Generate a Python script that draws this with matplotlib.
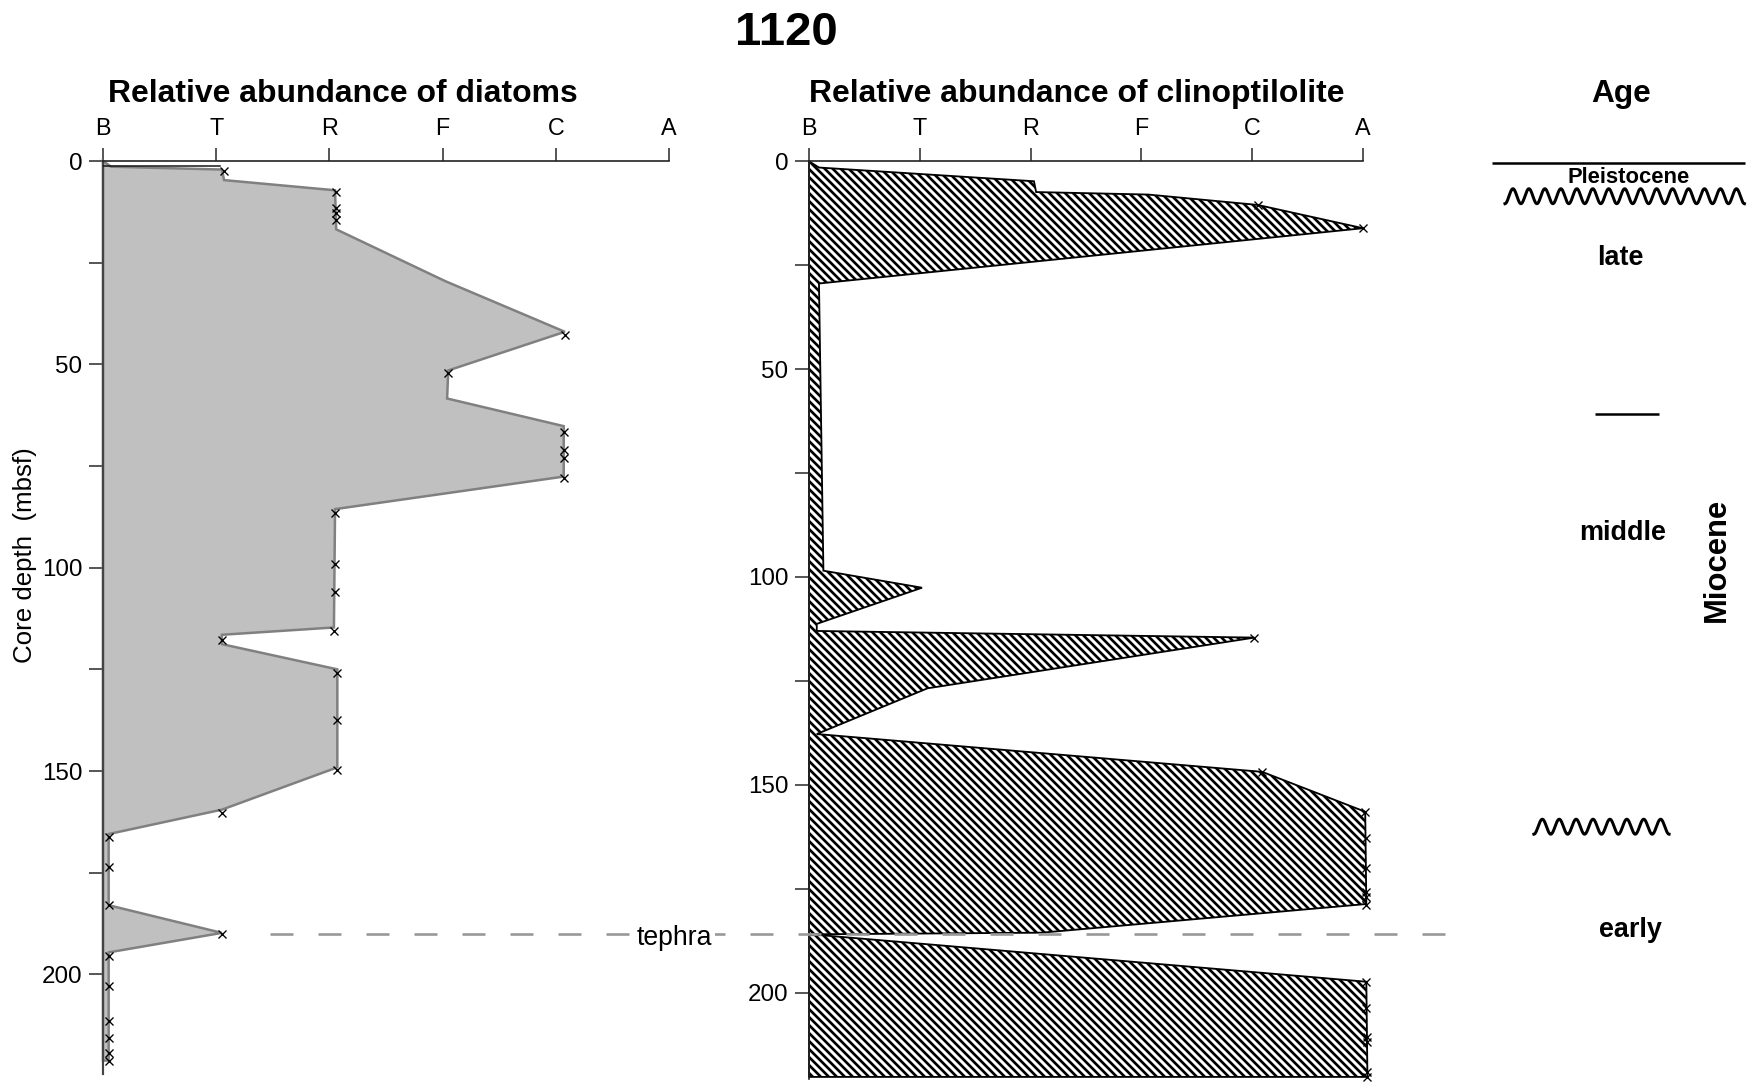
import numpy as np
import matplotlib
matplotlib.use("Agg")
import matplotlib.pyplot as plt
from matplotlib.lines import Line2D
from matplotlib.transforms import blended_transform_factory

plt.rcParams['font.family'] = ['Liberation Sans', 'DejaVu Sans']
plt.rcParams['hatch.linewidth'] = 1.6
plt.rcParams['lines.scale_dashes'] = False

# ---------------- data ----------------
abundance_labels = ['B', 'T', 'R', 'F', 'C', 'A']          # 0..5
abundance_ticks = [0, 1, 2, 3, 4, 5]
depth_ticks = [0, 25, 50, 75, 100, 125, 150, 175, 200]
depth_ticklabels = ['0', '', '50', '', '100', '', '150', '', '200']

# diatoms: outline vertices (depth mbsf, abundance class)
diatom_depth = [0, 1.4, 2.1, 4.7, 7.2, 16.8, 29.5, 42.0, 51.5, 58.4, 65.2, 77.6,
                85.6, 114.7, 116.5, 118.8, 125.0, 149.1, 159.5, 165.5, 183.0,
                189.8, 194.6, 221.2, 221.2]
diatom_value = [0, 0.07, 1.05, 1.07, 2.05, 2.06, 3.02, 4.08, 3.05, 3.04, 4.07, 4.07,
                2.05, 2.04, 1.05, 1.05, 2.07, 2.07, 1.05, 0.05, 0.05,
                1.05, 0.05, 0.05, 0]
# thin black trace near the top of the diatom log
diatom_trace_depth = [1.15, 1.15]
diatom_trace_value = [0, 1.03]
# diatoms: samples
diatom_sample_depth = [2.5, 7.5, 11.6, 12.9, 14.5, 42.8, 52.2, 66.6, 71.1, 73.1, 78.0,
                       86.5, 99.0, 106.0, 115.6, 117.7, 126.0, 137.4, 149.8, 160.3,
                       166.2, 173.5, 183.0, 190.0, 195.5, 202.8, 211.4, 215.7, 219.3, 221.2]
diatom_sample_value = [1.07, 2.06, 2.06, 2.06, 2.06, 4.08, 3.05, 4.07, 4.07, 4.07, 4.07,
                       2.05, 2.05, 2.05, 2.04, 1.05, 2.07, 2.07, 2.07, 1.05,
                       0.05, 0.05, 0.05, 1.05, 0.05, 0.05, 0.05, 0.05, 0.05, 0.05]

# clinoptilolite: upper interval outline
clino_upper_depth = [0, 1.5, 4.8, 7.4, 8.0, 10.5, 16.1, 29.4, 98.5, 102.6, 111.3, 113.0,
                     114.6, 126.8, 137.8, 146.9, 156.5, 178.7, 185.6, 186.0]
clino_upper_value = [0, 0.09, 2.03, 2.05, 3.06, 4.05, 5.0, 0.09, 0.13, 1.02, 0.07, 0.07,
                     4.02, 1.07, 0.07, 4.09, 5.02, 5.03, 2.1, 0.0]
# clinoptilolite: lower interval outline
clino_lower_depth = [186.2, 186.2, 197.4, 220.3, 220.3]
clino_lower_value = [0, 0.11, 5.03, 5.04, 0]
# clinoptilolite: samples
clino_sample_depth = [10.5, 16.1, 114.6, 146.9, 156.5, 162.9, 170.0, 175.7, 177.0, 179.0,
                      197.4, 203.8, 210.6, 212.0, 219.0, 220.3]
clino_sample_value = [4.05, 5.0, 4.02, 4.09, 5.02, 5.03, 5.03, 5.03, 5.03, 5.03,
                      5.03, 5.03, 5.04, 5.04, 5.04, 5.04]

tephra_depth = 190.0   # on the diatom depth axis

# age column (depths on clinoptilolite axis)
age_top_depth = 0.3
pleistocene_base_depth = 8.4
late_middle_depth = 60.8
middle_early_depth = 160.1
age_labels = ['late', 'middle', 'early']
age_label_depths = [23.3, 89.4, 185.0]
age_label_x = [0.548, 0.558, 0.582]

# ---------------- figure ----------------
DPI = 120
fig = plt.figure(figsize=(1752 / DPI, 1086 / DPI), dpi=DPI)
W, H = 1752.0, 1086.0

def box(x0, y0, x1, y1):
    return [x0 / W, 1 - y1 / H, (x1 - x0) / W, (y1 - y0) / H]

ax1 = fig.add_axes(box(103, 161, 669, 1074))
ax2 = fig.add_axes(box(809, 161.3, 1363, 1079.4))
ax3 = fig.add_axes(box(1460, 161.3, 1752, 1079.4))

tick_fs = 14
ytick_fs = 14.5

def style_axis(ax, ymax):
    ax.set_xlim(0, 5)
    ax.set_ylim(ymax, 0)
    ax.xaxis.tick_top()
    ax.set_xticks(abundance_ticks)
    ax.set_xticklabels(abundance_labels, fontsize=tick_fs)
    ax.set_yticks(depth_ticks)
    ax.set_yticklabels(depth_ticklabels, fontsize=ytick_fs)
    ax.tick_params(axis='x', direction='out', length=8, width=0.9, pad=4.5, color='#222222')
    ax.tick_params(axis='y', direction='out', length=8.4, width=0.9, pad=4, color='#222222')
    ax.spines['right'].set_visible(False)
    ax.spines['bottom'].set_visible(False)
    for s in ('top', 'left'):
        ax.spines[s].set_linewidth(1.0)
        ax.spines[s].set_color('#222222')
    ax.set_facecolor('none')

style_axis(ax1, 224.5)
style_axis(ax2, 220.9)
ax1.spines['left'].set_color('#444444')
ax1.spines['left'].set_linewidth(1.3)

# diatoms
p = ax1.fill(diatom_value, diatom_depth, facecolor='#c0c0c0', edgecolor='#808080',
             linewidth=1.5, zorder=2)
for a in p:
    a.set_clip_on(False)
ax1.plot(diatom_trace_value, diatom_trace_depth, color='#111111', lw=0.9, zorder=3)
ax1.plot(diatom_sample_value, diatom_sample_depth, linestyle='none', marker='x',
         markersize=4.5, markeredgewidth=0.8, color='black', zorder=3, clip_on=False)

# clinoptilolite
for vals, deps in ((clino_upper_value, clino_upper_depth),
                   (clino_lower_value, clino_lower_depth)):
    p = ax2.fill(vals, deps, facecolor='white', edgecolor='black', linewidth=1.1,
                 hatch='\\' * 5, zorder=2)
    for a in p:
        a.set_clip_on(False)
ax2.plot(clino_sample_value, clino_sample_depth, linestyle='none', marker='x',
         markersize=4.5, markeredgewidth=0.8, color='black', zorder=3, clip_on=False)

# age column
ax3.set_xlim(0, 1)
ax3.set_ylim(220.9, 0)
ax3.axis('off')
ax3.plot([0.108, 0.976], [age_top_depth, age_top_depth], color='black', lw=1.5,
         clip_on=False, solid_capstyle='butt')
ax3.text(0.579, 3.9, 'Pleistocene', ha='center', va='center', fontsize=13.2,
         fontweight='bold')

def wave(ax, x0, x1, depth, n, amp=1.8):
    t = np.linspace(0, 1, 800)
    ax.plot(x0 + (x1 - x0) * t, depth + amp * np.cos(2 * np.pi * n * t),
            color='black', lw=1.8, clip_on=False)

wave(ax3, 0.154, 0.974, pleistocene_base_depth, 15)
wave(ax3, 0.253, 0.716, middle_early_depth, 8)
ax3.plot([0.462, 0.682], [late_middle_depth, late_middle_depth], color='black', lw=1.5,
         solid_capstyle='butt')
for lab, d, x in zip(age_labels, age_label_depths, age_label_x):
    ax3.text(x, d, lab, ha='center', va='center', fontsize=16.2, fontweight='bold')
ax3.text(0.880, 95.9, 'Miocene', ha='center', va='center', rotation=90,
         fontsize=18.6, fontweight='bold')

# titles
fig.text(786.6 / W, 0.9588, '1120', ha='center', va='baseline', fontsize=28.4,
         fontweight='bold')
fig.text(343 / W, 0.906, 'Relative abundance of diatoms', ha='center', va='baseline',
         fontsize=19.1, fontweight='bold')
fig.text(1077 / W, 0.906, 'Relative abundance of clinoptilolite', ha='center',
         va='baseline', fontsize=19.1, fontweight='bold')
fig.text(1621 / W, 0.906, 'Age', ha='center', va='baseline', fontsize=19,
         fontweight='bold')
fig.text(24.6 / W, 0.489, 'Core depth  (mbsf)', ha='center', va='center', rotation=90,
         fontsize=15.5)

# tephra line across panels
tr = blended_transform_factory(fig.transFigure, ax1.transData)
fig.add_artist(Line2D([270 / W, 1447 / W], [tephra_depth, tephra_depth], transform=tr,
                      color='#999999', lw=1.6, dashes=(13.8, 15), zorder=5))
fig.text(637 / W, tephra_depth + 1.0, 'tephra', transform=tr, ha='left', va='center',
         fontsize=16, zorder=6,
         bbox=dict(facecolor='white', edgecolor='none', pad=1.5))

fig.savefig('out.png', dpi=DPI)
